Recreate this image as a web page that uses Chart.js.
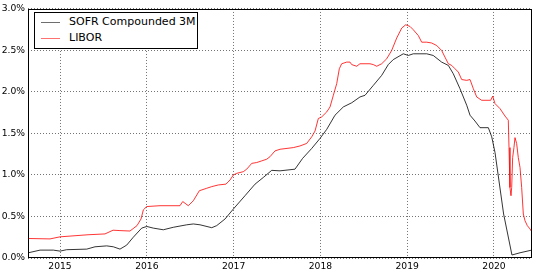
<!DOCTYPE html>
<html lang="en">
<head>
  <meta charset="UTF-8">
  <title>SOFR Compounded 3M vs LIBOR</title>
  <script src="https://cdn.jsdelivr.net/npm/chart.js"></script>
  <style>
    body {
      margin: 0;
      background: #ffffff;
      font-family: 'DejaVu Sans', sans-serif;
    }
    .wrap {
      position: relative;
      width: 536px;
      height: 273px;
    }
    .legend {
      position: absolute;
      left: 34px;
      top: 12px;
      width: 162px;
      height: 35px;
      border: 1px solid #000;
      background: #fff;
      font-size: 11px;
      color: #000;
    }
    .legend-row {
      position: absolute;
      left: 6px;
      height: 14px;
      line-height: 14px;
      white-space: nowrap;
    }
    .legend-line {
      display: inline-block;
      width: 19px;
      height: 1px;
      vertical-align: middle;
      margin-right: 9px;
    }
  </style>
</head>
<body>
  <div class="wrap">
    <canvas id="rates" width="536" height="273"></canvas>
    <div class="legend" id="legend"></div>
  </div>

  <script>
    // decimal years and values in %
    const sofrYears = [2014.635, 2014.770, 2014.923, 2015.000, 2015.077, 2015.308, 2015.403, 2015.538,
      2015.614, 2015.691, 2015.768, 2015.844, 2015.941, 2015.999, 2016.075, 2016.190, 2016.305,
      2016.460, 2016.536, 2016.613, 2016.748, 2016.805, 2016.901, 2016.997, 2017.131, 2017.247,
      2017.342, 2017.439, 2017.535, 2017.707, 2017.795, 2017.900, 2017.995, 2018.073, 2018.168,
      2018.264, 2018.361, 2018.456, 2018.514, 2018.610, 2018.706, 2018.782, 2018.839, 2018.955,
      2019.013, 2019.070, 2019.225, 2019.300, 2019.397, 2019.474, 2019.531, 2019.608, 2019.686,
      2019.724, 2019.781, 2019.839, 2019.935, 2019.974, 2020.012, 2020.111, 2020.207, 2020.300,
      2020.435];
    const sofrValues = [0.063, 0.095, 0.095, 0.083, 0.100, 0.107, 0.135, 0.146,
      0.135, 0.107, 0.155, 0.250, 0.360, 0.380, 0.360, 0.340, 0.370,
      0.400, 0.410, 0.400, 0.365, 0.390, 0.470, 0.590, 0.750, 0.890,
      0.970, 1.056, 1.050, 1.070, 1.200, 1.320, 1.440, 1.550, 1.720,
      1.820, 1.870, 1.940, 1.960, 2.080, 2.200, 2.330, 2.390, 2.460,
      2.440, 2.460, 2.460, 2.440, 2.360, 2.320, 2.220, 2.040, 1.840,
      1.720, 1.650, 1.570, 1.570, 1.460, 1.270, 0.530, 0.036, 0.063,
      0.095];

    const liborYears = [2014.631, 2014.885, 2015.000, 2015.323, 2015.518, 2015.611, 2015.691, 2015.806,
      2015.887, 2015.933, 2015.960, 2015.999, 2016.152, 2016.382, 2016.414, 2016.478, 2016.536,
      2016.605, 2016.690, 2016.748, 2016.824, 2016.912, 2016.959, 2016.997, 2017.036, 2017.112,
      2017.151, 2017.209, 2017.266, 2017.324, 2017.381, 2017.419, 2017.477, 2017.535, 2017.688,
      2017.765, 2017.842, 2017.900, 2017.938, 2017.976, 2018.015, 2018.073, 2018.111, 2018.149,
      2018.188, 2018.218, 2018.245, 2018.303, 2018.341, 2018.361, 2018.418, 2018.456, 2018.571,
      2018.610, 2018.649, 2018.706, 2018.764, 2018.821, 2018.879, 2018.937, 2018.983, 2019.032,
      2019.070, 2019.128, 2019.167, 2019.225, 2019.282, 2019.340, 2019.397, 2019.435, 2019.474,
      2019.513, 2019.551, 2019.589, 2019.628, 2019.686, 2019.724, 2019.762, 2019.801, 2019.858,
      2019.962, 2019.985, 2020.012, 2020.069, 2020.127, 2020.165, 2020.173, 2020.184, 2020.196,
      2020.204, 2020.215, 2020.230, 2020.242, 2020.261, 2020.280, 2020.300, 2020.319, 2020.338,
      2020.357, 2020.384, 2020.415, 2020.438];
    const liborValues = [0.235, 0.230, 0.255, 0.280, 0.290, 0.335, 0.330, 0.325,
      0.390, 0.470, 0.580, 0.620, 0.630, 0.630, 0.680, 0.630, 0.690,
      0.810, 0.840, 0.860, 0.880, 0.890, 0.940, 1.000, 1.020, 1.040,
      1.070, 1.140, 1.150, 1.170, 1.190, 1.220, 1.290, 1.310, 1.330,
      1.350, 1.380, 1.460, 1.530, 1.680, 1.700, 1.760, 1.820, 1.960,
      2.100, 2.280, 2.340, 2.360, 2.360, 2.330, 2.310, 2.340, 2.340,
      2.330, 2.310, 2.340, 2.400, 2.500, 2.650, 2.770, 2.810, 2.790,
      2.750, 2.680, 2.600, 2.600, 2.590, 2.560, 2.500, 2.420, 2.340,
      2.320, 2.280, 2.240, 2.150, 2.140, 2.150, 2.040, 1.940, 1.900,
      1.900, 1.950, 1.860, 1.800, 1.710, 1.660, 1.330, 0.850, 0.750,
      0.850, 1.210, 1.330, 1.450, 1.380, 1.210, 1.090, 0.850, 0.530,
      0.450, 0.390, 0.350, 0.310];

    const yearTicks = [2015, 2016, 2017, 2018, 2019, 2020];
    const xMin = 2014.631, xMax = 2020.438;

    const series = [
      { label: "SOFR Compounded 3M", years: sofrYears, values: sofrValues, color: "#000000", sample: "#6e6e6e" },
      { label: "LIBOR", years: liborYears, values: liborValues, color: "#ff0000", sample: "#ff7070" }
    ];

    const tickFont = { family: "'DejaVu Sans', sans-serif", size: 9.2, lineHeight: 1.3 };
    const gridColor = "rgba(0, 0, 0, 0.55)";

    // black box round the plot, like the matplotlib frame
    const frame = {
      id: 'frame',
      afterDraw(chart) {
        const { ctx, chartArea: a } = chart;
        ctx.save();
        ctx.strokeStyle = "#000";
        ctx.lineWidth = 1;
        ctx.strokeRect(Math.round(a.left) + 0.5, Math.round(a.top) + 0.5,
          Math.round(a.right - a.left) - 1, Math.round(a.bottom - a.top) - 1);
        ctx.restore();
      }
    };

    new Chart(document.getElementById("rates"), {
      type: 'line',
      data: {
        datasets: series.map(s => ({
          label: s.label,
          data: s.years.map((x, i) => ({ x: x, y: s.values[i] })),
          borderColor: s.color,
          borderWidth: 0.8,
          pointRadius: 0,
          tension: 0,
          fill: false
        }))
      },
      options: {
        responsive: false,
        animation: false,
        layout: { padding: { left: 0, right: 4, top: 0, bottom: 0 } },
        plugins: {
          legend: { display: false },
          tooltip: { enabled: false }
        },
        scales: {
          x: {
            type: 'linear',
            min: xMin,
            max: xMax,
            afterBuildTicks: scale => { scale.ticks = yearTicks.map(v => ({ value: v })); },
            afterFit: scale => { scale.height = 15; },
            ticks: {
              color: "#000",
              font: tickFont,
              padding: 3,
              maxRotation: 0,
              callback: v => String(v)
            },
            grid: { color: gridColor, lineWidth: 1, drawTicks: false },
            border: { display: false, dash: [1, 2] }
          },
          y: {
            min: 0,
            max: 3,
            afterFit: scale => { scale.width = 28; },
            ticks: {
              stepSize: 0.5,
              color: "#000",
              font: tickFont,
              padding: 3,
              callback: v => v.toFixed(1) + '%'
            },
            grid: { color: gridColor, lineWidth: 1, drawTicks: false },
            border: { display: false, dash: [1, 2] }
          }
        }
      },
      plugins: [frame]
    });

    const legend = document.getElementById("legend");
    series.forEach((s, i) => {
      const row = document.createElement("div");
      row.className = "legend-row";
      row.style.top = (2 + i * 16) + "px";
      row.innerHTML = `<span class="legend-line" style="background:${s.sample}"></span>${s.label}`;
      legend.appendChild(row);
    });
  </script>
</body>
</html>
